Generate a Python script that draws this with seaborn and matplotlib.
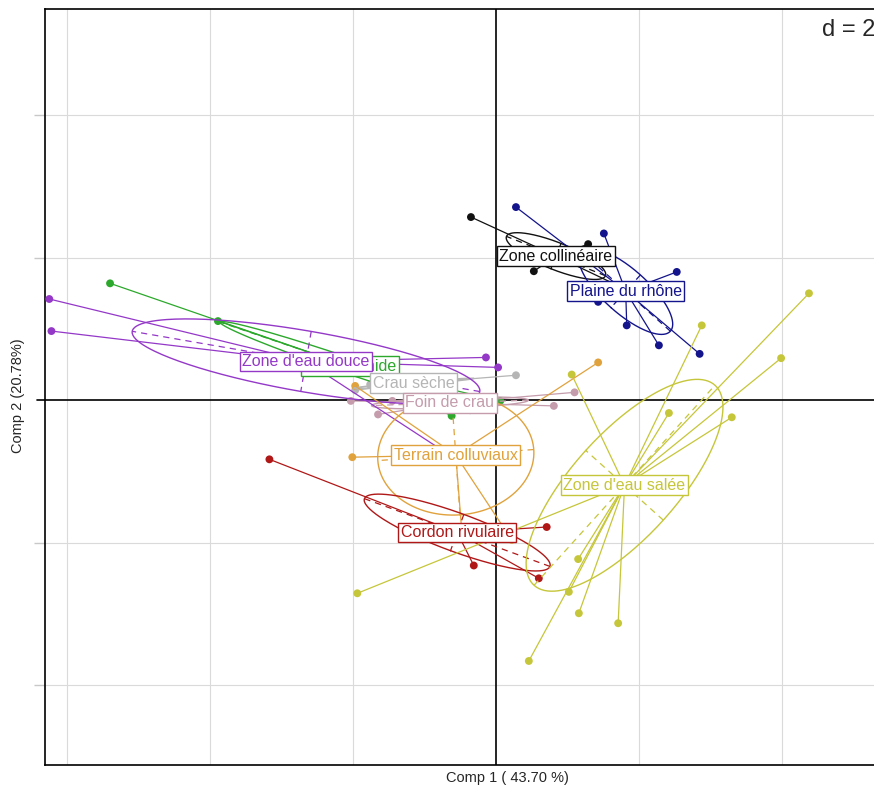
import numpy as np
import pandas as pd
import matplotlib
matplotlib.use("Agg")
import matplotlib.pyplot as plt
import seaborn as sns

# group order = drawing order of the labels (later ones on top)
groups = ["Zone humide", "Crau sèche", "Foin de crau", "Zone d'eau douce",
          "Zone collinéaire", "Plaine du rhône", "Terrain colluviaux",
          "Cordon rivulaire", "Zone d'eau salée"]
colors = ["#2CA82C", "#B5B5B5", "#C49CAC", "#9438C8",
          "#111111", "#14148C", "#E0A23C", "#B01818", "#C6C63A"]

# coordinates on the two first components
humide_x = [-5.40, -3.89, -0.62, 0.06, -0.36]
humide_y = [1.64, 1.11, -0.22, -0.01, -0.14]

crau_x = [0.28, -1.76, -1.97]
crau_y = [0.35, 0.22, 0.14]

foin_x = [-2.03, -1.45, 0.81, 1.10, -1.65]
foin_y = [-0.01, -0.01, -0.08, 0.11, -0.20]

douce_x = [-6.25, -6.22, -0.14, 0.03, -0.71]
douce_y = [1.42, 0.97, 0.60, 0.46, -0.73]

colli_x = [-0.35, 0.53, 1.29, 1.89]
colli_y = [2.57, 1.81, 2.19, 1.52]

rhone_x = [0.28, 1.51, 2.53, 1.43, 1.83, 2.28, 2.85]
rhone_y = [2.71, 2.34, 1.80, 1.38, 1.05, 0.77, 0.65]

terrain_x = [-2.01, -1.97, 1.43, -0.48, 0.22]
terrain_y = [-0.80, 0.20, 0.53, -1.82, -1.96]

cordon_x = [-3.17, 0.71, -0.31, 0.60]
cordon_y = [-0.83, -1.78, -2.32, -2.50]

salee_x = [4.38, 2.88, 3.99, 1.06, 2.42, 3.30, 1.15, 1.02, 1.16, 1.71, 0.46, -1.94]
salee_y = [1.50, 1.05, 0.59, 0.36, -0.18, -0.24, -2.23, -2.69, -2.99, -3.13, -3.66, -2.71]

xs = [humide_x, crau_x, foin_x, douce_x, colli_x, rhone_x, terrain_x, cordon_x, salee_x]
ys = [humide_y, crau_y, foin_y, douce_y, colli_y, rhone_y, terrain_y, cordon_y, salee_y]

rows = []
for g, gx, gy in zip(groups, xs, ys):
    for a, b in zip(gx, gy):
        rows.append({"group": g, "comp1": a, "comp2": b})
df = pd.DataFrame(rows)

grid_x = [-6, -4, -2, 2, 4]
grid_y = [-4, -2, 2, 4]
cell = 0.83  # ellipse size factor

sns.set_style("white")
plt.rcParams["font.family"] = ["Liberation Sans", "DejaVu Sans"]

fig = plt.figure(figsize=(8.74, 7.89), dpi=100)
ax = fig.add_axes([0.0515, 0.0304, 0.9485, 0.9582])
ax.set_xlim(-6.31, 5.29)
ax.set_ylim(-5.12, 5.49)

for gx in grid_x:
    ax.axvline(gx, color="#dadada", lw=0.8, zorder=0)
for gy in grid_y:
    ax.axhline(gy, color="#dadada", lw=0.8, zorder=0)
ax.axvline(0, color="black", lw=1.2, zorder=1)
ax.plot([-6.42, 5.29], [0, 0], color="black", lw=1.2, zorder=1, clip_on=False)

sns.scatterplot(data=df, x="comp1", y="comp2", hue="group", hue_order=groups,
                palette=colors, s=32, edgecolor=None, linewidth=0,
                legend=False, ax=ax, zorder=3)

t = np.linspace(0, 2 * np.pi, 240)
for i, (g, col) in enumerate(zip(groups, colors)):
    sub = df[df["group"] == g]
    px = sub["comp1"].to_numpy()
    py = sub["comp2"].to_numpy()
    mx, my = px.mean(), py.mean()
    # stars
    for a, b in zip(px, py):
        ax.plot([mx, a], [my, b], color=col, lw=0.9, zorder=4)
    # ellipse
    cov = np.cov(px, py, bias=True)
    vals, vecs = np.linalg.eigh(cov)
    r = cell * np.sqrt(np.clip(vals, 0, None))
    ex = mx + r[0] * np.cos(t) * vecs[0, 0] + r[1] * np.sin(t) * vecs[0, 1]
    ey = my + r[0] * np.cos(t) * vecs[1, 0] + r[1] * np.sin(t) * vecs[1, 1]
    ax.plot(ex, ey, color=col, lw=1, zorder=4)
    for k in range(2):
        ax.plot([mx - r[k] * vecs[0, k], mx + r[k] * vecs[0, k]],
                [my - r[k] * vecs[1, k], my + r[k] * vecs[1, k]],
                color=col, lw=0.9, ls=(0, (5, 4)), zorder=4)
    ax.text(mx, my, g, color=col, fontsize=11.5, ha="center", va="center",
            zorder=10 + i,
            bbox=dict(boxstyle="square,pad=0.15", fc="white", ec=col, lw=1))

ax.set_xticks([])
ax.set_yticks([-4, -2, 2, 4])
ax.tick_params(axis="y", left=True, length=8, width=1, color="#c8c8c8",
               labelleft=False)
ax.set_xlabel("")
ax.set_ylabel("")
for side in ["left", "bottom", "top"]:
    ax.spines[side].set_color("black")
    ax.spines[side].set_linewidth(1.2)
ax.spines["right"].set_visible(False)

ax.text(822 / 874, 1 - 30 / 789, "d = 2", transform=fig.transFigure,
        fontsize=17, ha="left", va="center", zorder=20)
fig.text(507 / 874, 1 - 778 / 789, "Comp 1 ( 43.70 %)", fontsize=10.5,
         ha="center", va="center")
fig.text(18 / 874, 1 - 396 / 789, "Comp 2 (20.78%)", fontsize=10.5,
         ha="center", va="center", rotation=90)

fig.savefig("out.png", dpi=100)
